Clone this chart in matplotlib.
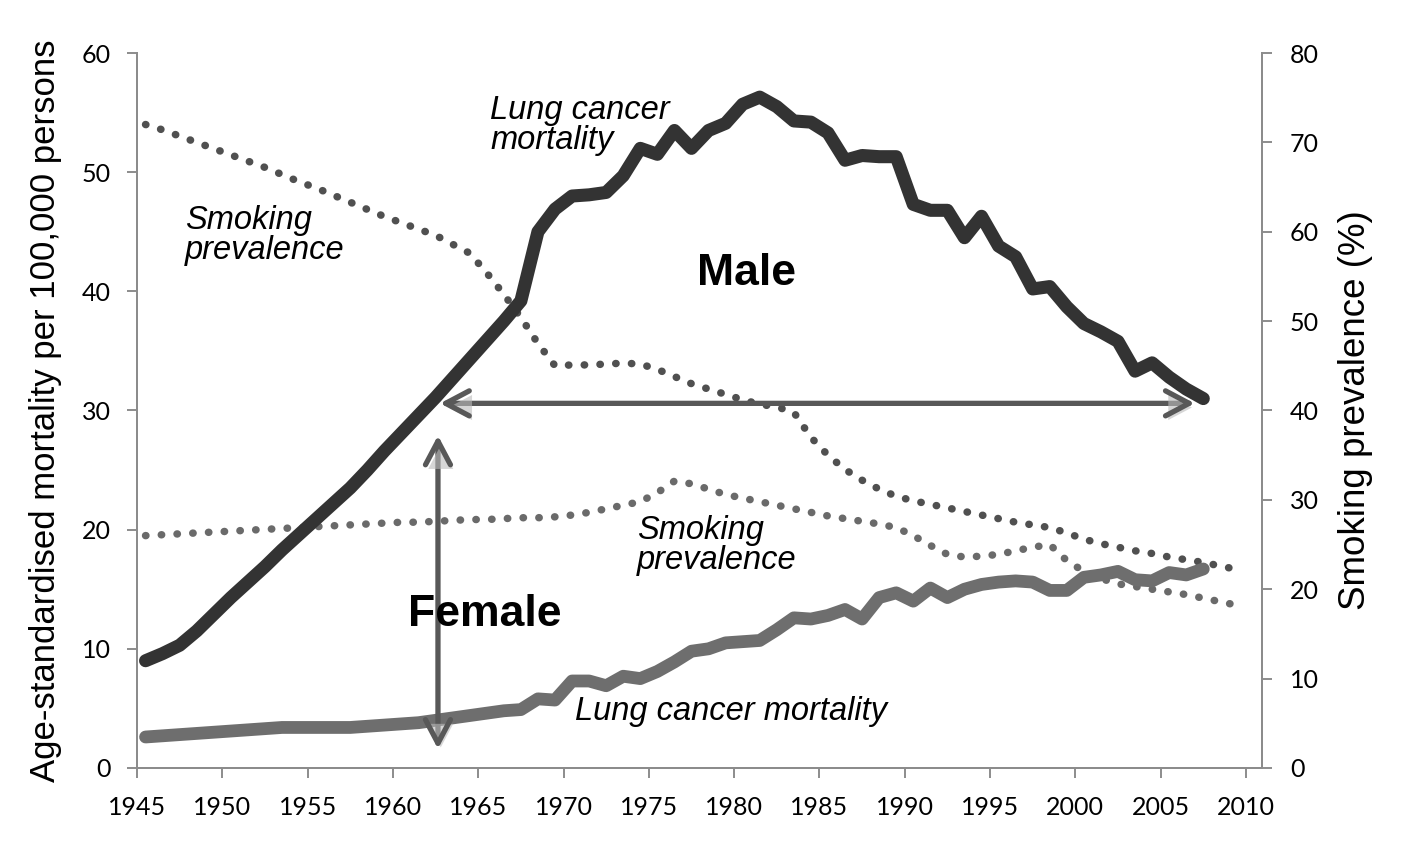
import numpy as np
import matplotlib
matplotlib.use("Agg")
import matplotlib.pyplot as plt
import matplotlib.patheffects as pe

# lung cancer mortality per 100,000 (left axis), one value per year 1945-2007
mort_years = np.arange(1945, 2008)
male_mortality = [
    9.0, 9.6, 10.3, 11.5, 12.9, 14.3, 15.6, 16.9, 18.3, 19.6,
    20.9, 22.2, 23.5, 25.0, 26.6, 28.1, 29.6, 31.1, 32.7, 34.3,
    35.9, 37.5, 39.2, 45.0, 46.9, 48.0, 48.1, 48.3, 49.7, 52.0,
    51.5, 53.5, 52.0, 53.5, 54.1, 55.7, 56.3, 55.5, 54.3, 54.2,
    53.3, 51.0, 51.4, 51.3, 51.3, 47.3, 46.8, 46.8, 44.5, 46.3,
    43.8, 42.9, 40.2, 40.4, 38.7, 37.3, 36.6, 35.8, 33.3, 34.0,
    32.8, 31.8, 31.0,
]
female_mortality = [
    2.6, 2.7, 2.8, 2.9, 3.0, 3.1, 3.2, 3.3, 3.4, 3.4,
    3.4, 3.4, 3.4, 3.5, 3.6, 3.7, 3.8, 4.0, 4.2, 4.4,
    4.6, 4.8, 4.9, 5.8, 5.7, 7.3, 7.3, 6.9, 7.7, 7.5,
    8.1, 8.9, 9.8, 10.0, 10.5, 10.6, 10.7, 11.6, 12.6, 12.5,
    12.8, 13.3, 12.5, 14.3, 14.7, 14.0, 15.1, 14.3, 15.0, 15.4,
    15.6, 15.7, 15.6, 14.9, 14.9, 16.0, 16.2, 16.5, 15.8, 15.7,
    16.4, 16.2, 16.7,
]

# smoking prevalence % (right axis), one value per year 1945-2009
smk_years = np.arange(1945, 2010)
male_smoking = [
    72.0, 71.4, 70.7, 70.0, 69.3, 68.6, 67.9, 67.2, 66.4, 65.6,
    64.9, 64.1, 63.3, 62.5, 61.7, 61.0, 60.3, 59.6, 58.6, 57.6,
    55.4, 53.0, 50.4, 47.5, 45.0, 45.1, 45.1, 45.2, 45.3, 45.2,
    44.6, 43.8, 43.0, 42.4, 41.8, 41.2, 40.7, 40.4, 39.8, 37.0,
    35.0, 33.4, 32.2, 31.2, 30.4, 29.9, 29.5, 29.1, 28.7, 28.3,
    27.9, 27.5, 27.2, 26.9, 26.3, 25.6, 25.1, 24.7, 24.3, 24.0,
    23.6, 23.3, 23.0, 22.6, 22.2,
]
female_smoking = [
    26.0, 26.1, 26.2, 26.3, 26.4, 26.5, 26.6, 26.7, 26.8, 26.9,
    27.0, 27.1, 27.2, 27.3, 27.4, 27.5, 27.5, 27.6, 27.7, 27.8,
    27.8, 27.9, 28.0, 28.0, 28.1, 28.3, 28.6, 29.0, 29.4, 29.8,
    30.8, 32.1, 31.8, 31.2, 30.6, 30.2, 29.8, 29.4, 29.0, 28.6,
    28.2, 27.9, 27.6, 27.3, 26.9, 26.0, 24.9, 23.9, 23.6, 23.7,
    23.9, 24.3, 24.7, 25.0, 23.2, 22.0, 21.2, 20.6, 20.3, 20.0,
    19.7, 19.4, 19.0, 18.6, 18.2,
]

year_ticks = list(range(1945, 2011, 5))

plt.rcParams["font.family"] = ["Liberation Sans", "DejaVu Sans"]

fig = plt.figure(figsize=(14.17, 8.43), dpi=100)
ax = fig.add_axes([0.0967, 0.089, 0.7939, 0.8481])
ax2 = ax.twinx()

dots = (0, (0.05, 2.05))
# years are drawn at mid-year, as in the original category axis
ax2.plot(smk_years + 0.5, male_smoking, color="#505050", lw=5.4,
         linestyle=dots, dash_capstyle="round")
ax2.plot(smk_years + 0.5, female_smoking, color="#6a6a6a", lw=5.4,
         linestyle=dots, dash_capstyle="round")
ax.plot(mort_years + 0.5, female_mortality, color="#6e6e6e", lw=9.2,
        solid_joinstyle="round", solid_capstyle="round", zorder=3)
ax.plot(mort_years + 0.5, male_mortality, color="#333333", lw=9.4,
        solid_joinstyle="round", solid_capstyle="round", zorder=4)
ax.set_zorder(ax2.get_zorder() + 1)
ax.patch.set_visible(False)

ax.set_xlim(1945, 2010.94)
ax.set_ylim(0, 60)
ax2.set_ylim(0, 80)
ax.set_xticks(year_ticks)
ax.set_xticklabels([str(y) for y in year_ticks])
ax.set_yticks(range(0, 61, 10))
ax2.set_yticks(range(0, 81, 10))

spine_col = "#8c8c8c"
for a in (ax, ax2):
    a.spines["top"].set_visible(False)
    for s in ("left", "right", "bottom"):
        a.spines[s].set_color(spine_col)
        a.spines[s].set_linewidth(1.4)
    a.tick_params(colors=spine_col, length=7, width=1.4, labelcolor="black")
    for lab in a.get_xticklabels() + a.get_yticklabels():
        lab.set_fontfamily("Lato")
        lab.set_fontsize(18)
ax.tick_params(axis="y", pad=12)
ax.tick_params(axis="x", pad=13)
ax2.tick_params(axis="y", pad=13)

ax.set_ylabel("Age-standardised mortality per 100,000 persons", fontsize=25, labelpad=14)
ax2.set_ylabel("Smoking prevalence (%)", fontsize=26.5, labelpad=14)

arrow_kw = dict(arrowstyle="<->,head_length=0.85,head_width=0.45", color="#585858",
                lw=3.8, shrinkA=0, shrinkB=0, mutation_scale=20)
shadow = [pe.SimplePatchShadow(offset=(2, -3), shadow_rgbFace="#bbbbbb", alpha=0.6), pe.Normal()]
ax.annotate("", xy=(1962.76, 30.6), xytext=(2007.0, 30.6),
            arrowprops=dict(arrow_kw, path_effects=shadow), zorder=5)
ax.annotate("", xy=(1962.64, 27.9), xytext=(1962.64, 1.6),
            arrowprops=dict(arrow_kw, path_effects=shadow), zorder=5)

it = dict(fontsize=23.5, style="italic", linespacing=0.95, va="center", ha="left")
ax.text(1965.7, 53.9, "Lung cancer\nmortality", **it)
ax.text(1947.8, 44.7, "Smoking\nprevalence", **it)
ax.text(1974.3, 18.7, "Smoking\nprevalence", **it)
ax.text(1970.7, 4.7, "Lung cancer mortality", **it)
ax.text(1980.7, 41.5, "Male", fontsize=32, fontweight="bold", ha="center", va="center", zorder=6)
ax.text(1965.4, 12.9, "Female", fontsize=32, fontweight="bold", ha="center", va="center", zorder=6)

fig.savefig("out.png", dpi=100)
